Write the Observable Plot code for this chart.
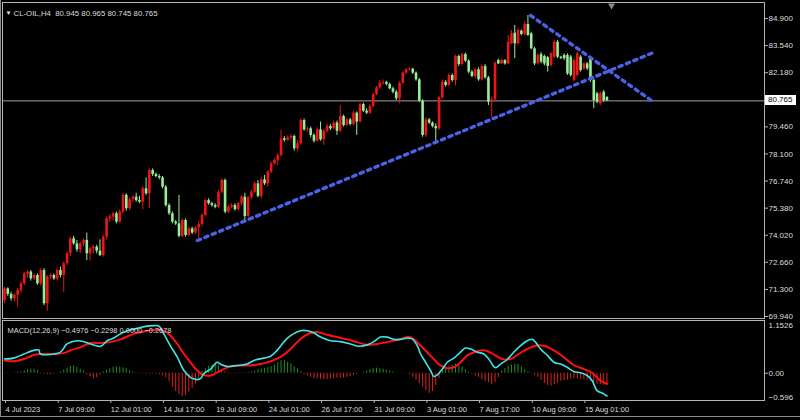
<!DOCTYPE html>
<html><head><meta charset="utf-8">
<script src="https://cdn.jsdelivr.net/npm/d3@7"></script>
<script src="https://cdn.jsdelivr.net/npm/@observablehq/plot@0.6"></script>
<style>
html,body{margin:0;padding:0;background:#000;}
#wrap{position:relative;width:800px;height:420px;background:#000;overflow:hidden;}
#wrap svg{position:absolute;left:0;}
#pricebox{position:absolute;left:765px;width:31px;height:10px;background:#fff;color:#000;font:8px "Liberation Sans",Arial,sans-serif;line-height:10px;padding-left:3px;box-sizing:border-box;}
#outer{position:absolute;left:0;top:0;width:800px;height:417px;border-left:1px solid #8a8a8a;border-bottom:1px solid #8a8a8a;box-sizing:border-box;pointer-events:none;}
</style></head>
<body><div id="wrap"></div>
<script>
// ---- data: H4 candles (bar index 0..183) ----
const open = [
70.75,71.33,71.05,70.83,71.00,71.25,71.58,72.05,72.17,71.83,
72.00,71.58,72.25,70.58,71.92,72.00,71.83,72.25,72.00,72.59,
73.09,73.84,73.59,73.29,73.59,73.76,73.09,73.34,73.42,73.22,
73.00,73.92,74.84,74.93,75.10,74.68,75.18,76.02,75.35,75.80,
75.93,75.76,75.68,76.35,76.10,77.27,77.07,76.97,76.90,76.43,
75.51,75.10,74.68,74.59,73.96,74.76,74.01,74.34,74.13,74.39,
74.56,75.01,75.76,75.60,75.51,75.43,76.18,76.77,75.18,75.43,
75.51,75.30,75.60,75.93,74.96,75.90,76.18,76.60,75.97,76.80,
76.60,77.19,77.60,77.78,78.02,78.86,78.78,78.91,78.98,78.36,
78.61,79.78,79.31,79.36,79.03,78.74,79.31,78.81,79.24,79.48,
79.36,79.65,79.24,79.98,79.53,79.81,79.58,80.15,79.70,80.58,
80.25,80.15,80.48,81.08,81.42,81.65,81.69,81.59,81.37,81.20,
80.87,81.65,82.16,82.32,82.36,82.16,81.82,80.75,79.03,79.81,
79.65,79.48,79.36,80.92,81.70,81.54,82.04,81.79,82.99,82.59,
83.09,82.76,82.21,81.99,82.32,81.82,82.49,81.92,80.70,80.82,
82.79,82.62,82.79,82.62,83.63,84.16,83.63,84.26,84.10,84.60,
84.13,83.38,82.62,83.09,82.99,82.93,82.54,82.96,83.71,82.96,
83.04,83.04,82.96,81.79,82.04,82.96,82.37,82.62,82.88,81.79,
81.12,80.62,81.20,80.945];
const high = [
71.41,71.38,71.16,71.08,71.33,71.67,72.17,72.25,72.25,72.08,
72.08,72.34,72.34,72.00,72.08,72.08,72.34,72.42,72.67,73.17,
73.92,73.96,73.76,73.67,73.84,74.13,73.42,73.51,73.51,73.79,
74.01,74.93,75.06,75.18,75.18,75.30,76.10,76.10,75.90,76.02,
76.13,75.97,76.47,76.90,77.35,77.35,77.14,77.07,76.97,76.52,
75.60,75.18,74.76,76.02,74.84,74.84,74.43,74.43,74.46,74.68,
75.10,75.83,75.85,75.68,75.60,76.27,76.85,76.85,75.51,75.60,
75.60,75.68,76.02,76.13,75.97,76.27,76.69,76.77,76.90,77.02,
77.27,77.69,77.86,78.11,79.28,78.98,79.01,79.08,79.04,78.78,
79.86,79.86,79.45,79.45,79.11,79.41,79.70,79.31,79.58,79.58,
79.75,79.75,80.53,80.05,79.91,79.88,80.25,80.21,80.65,80.65,
80.37,80.58,81.15,81.49,81.79,81.82,81.75,81.65,81.45,81.29,
81.72,82.22,82.39,82.42,82.39,82.22,81.89,80.82,79.91,79.88,
79.71,79.61,80.98,81.82,81.79,82.12,82.12,83.06,83.06,83.16,
83.16,82.83,82.29,82.39,82.42,82.56,82.59,81.99,80.92,82.72,
82.86,82.86,82.83,84.05,84.30,84.55,84.38,84.33,84.72,85.05,
84.21,83.46,83.13,83.19,83.06,82.99,83.19,83.80,83.80,83.00,
83.13,83.13,83.04,82.88,83.21,83.04,82.69,82.69,82.96,81.87,
81.20,81.20,81.29,80.965];
const low = [
70.58,70.95,70.71,70.66,70.41,71.11,71.50,71.88,71.72,71.75,
71.50,71.45,70.49,70.21,71.78,71.75,71.72,71.88,71.16,72.50,
72.95,73.51,73.17,73.09,73.46,72.75,72.72,73.09,73.09,72.95,
72.92,73.79,74.68,74.76,74.59,74.63,75.10,75.23,75.26,75.68,
75.68,75.60,75.30,76.02,75.35,76.97,76.90,76.80,76.35,75.43,
75.01,74.59,74.51,73.89,73.89,73.92,73.96,74.06,74.06,73.84,
74.43,74.93,75.53,75.43,75.35,75.35,76.10,75.10,75.10,75.35,
75.23,75.23,75.51,74.73,74.90,75.80,76.10,75.90,75.85,76.52,
76.43,77.10,77.55,77.52,77.94,78.69,78.74,78.78,78.24,78.24,
78.53,79.24,79.19,78.91,78.64,78.69,78.74,78.53,79.14,79.28,
79.31,79.03,79.18,79.45,79.48,79.51,79.51,79.03,79.65,80.18,
80.08,80.08,80.42,81.02,81.35,81.55,81.52,81.32,81.12,80.78,
80.62,81.59,82.09,82.26,82.09,81.75,80.68,78.94,78.94,79.58,
79.41,78.69,79.28,80.85,81.45,81.49,81.70,81.52,82.49,82.52,
82.69,82.12,81.92,81.87,81.75,81.75,81.85,80.53,79.91,80.75,
82.59,82.59,82.56,82.59,83.59,82.88,83.56,84.03,84.03,84.00,
83.33,82.54,82.56,82.62,82.52,82.21,82.46,82.88,82.88,82.84,
82.79,82.04,81.96,81.70,81.96,82.21,82.29,82.29,81.70,80.37,
80.62,80.53,80.70,80.745];
const close = [
71.33,71.05,70.83,71.00,71.25,71.58,72.08,72.17,71.83,72.00,
71.58,72.25,70.58,71.92,72.00,71.83,72.25,72.00,72.59,73.09,
73.84,73.59,73.29,73.59,73.76,73.09,73.34,73.42,73.22,73.00,
73.92,74.84,74.93,75.10,74.68,75.18,76.02,75.35,75.80,75.93,
75.76,75.68,76.35,76.10,77.27,77.07,76.97,76.90,76.43,75.51,
75.10,74.68,74.59,73.96,74.76,74.01,74.34,74.13,74.39,74.56,
75.01,75.76,75.60,75.51,75.43,76.18,76.77,75.18,75.43,75.51,
75.30,75.60,75.93,74.96,75.90,76.18,76.60,75.97,76.80,76.60,
77.19,77.60,77.78,78.02,78.86,78.78,78.91,78.98,78.36,78.61,
79.78,79.31,79.36,79.03,78.74,79.31,78.81,79.24,79.48,79.36,
79.65,79.24,79.98,79.53,79.81,79.58,80.15,79.70,80.58,80.25,
80.15,80.48,81.08,81.42,81.65,81.69,81.59,81.37,81.20,80.87,
81.65,82.16,82.32,82.36,82.16,81.82,80.75,79.03,79.81,79.65,
79.48,79.36,80.92,81.70,81.54,82.04,81.79,82.99,82.59,83.09,
82.76,82.21,81.99,82.32,81.82,82.49,81.92,80.70,80.82,82.66,
82.62,82.79,82.62,83.71,84.13,83.63,84.30,84.10,84.60,84.05,
83.38,82.62,83.04,82.71,82.62,82.49,83.13,83.71,82.96,82.90,
82.88,82.12,82.04,82.79,83.13,82.29,82.62,82.37,81.79,80.78,
80.70,81.12,80.78,80.765];

// trend lines (bar index, price)
const trendUpBar = [58.6, 197.1];
const trendUpPrice = [73.755, 83.19];
const trendDownBar = [159.8, 197.4];
const trendDownPrice = [85.05, 80.68];

// price axis
const priceTicks = [84.9, 83.54, 82.18, 79.46, 78.1, 76.74, 75.38, 74.02, 72.66, 71.3, 69.94];
const priceDomain = [69.84, 85.703];

// MACD(12,26,9)
const macdBar = [0,2.8,5.9,8.9,10.4,10.9,14.0,17.0,19.0,22.1,24.1,26.1,29.2,31.2,33.2,35.2,37.3,40.3,43.3,45.4,46.9,48.4,50.4,52.5,54.5,56.5,58.5,59.5,60.5,62.6,64.6,65.6,67.6,70.7,73.7,75.7,78.8,80.8,82.8,84.8,86.9,89.9,91.9,94.0,96.0,99.0,102.1,105.1,107.6,110.2,112.2,114.2,116.3,118.3,120.3,122.3,123.8,125.4,126.4,127.9,129.4,130.4,131.4,133.0,134.5,136.5,138.5,140.0,141.6,143.6,145.6,147.1,149.1,150.7,152.7,154.7,156.7,158.8,160.3,161.3,162.8,164.9,166.9,168.9,170.9,172.9,175.0,177.0,178.5,180.0,182.0,183];
const macdVal = [0.31,0.33,0.42,0.50,0.51,0.42,0.41,0.46,0.64,0.71,0.69,0.64,0.59,0.71,0.77,0.86,0.93,0.98,1.03,1.04,1.03,0.86,0.60,0.35,0.06,-0.09,-0.14,-0.12,-0.01,0.09,0.24,0.20,0.15,0.17,0.20,0.28,0.33,0.37,0.50,0.68,0.82,0.93,0.93,0.88,0.79,0.71,0.69,0.64,0.59,0.62,0.69,0.79,0.79,0.74,0.74,0.77,0.75,0.60,0.42,0.24,0.06,-0.07,-0.04,0.09,0.24,0.33,0.46,0.55,0.53,0.46,0.42,0.31,0.12,0.20,0.30,0.46,0.60,0.71,0.74,0.68,0.53,0.39,0.24,0.20,0.13,0.04,0.01,-0.05,-0.16,-0.38,-0.45,-0.4976];
const signalBar = [0,2.8,5.9,8.9,11.9,15.0,18.0,20.0,23.1,26.1,29.2,32.2,35.2,39.3,42.3,45.4,48.4,50.4,52.5,54.5,56.5,58.5,60.5,62.6,64.6,66.6,68.7,71.7,74.7,77.8,80.8,83.8,86.9,89.9,92.9,95.0,98.0,101.1,104.1,107.1,110.2,113.2,116.3,119.3,120.3,122.8,124.3,126.4,128.4,130.4,132.4,134.5,136.5,138.5,140.6,142.6,145.1,147.1,149.1,151.2,153.7,156.2,158.8,161.3,163.8,166.9,169.9,172.9,176.0,178.5,181.0,183];
const signalVal = [0.28,0.26,0.31,0.40,0.42,0.42,0.44,0.50,0.57,0.66,0.66,0.68,0.74,0.86,0.91,0.95,0.93,0.82,0.64,0.42,0.24,0.06,-0.04,-0.05,0.02,0.09,0.15,0.17,0.17,0.20,0.26,0.35,0.53,0.75,0.88,0.90,0.84,0.79,0.74,0.68,0.62,0.64,0.68,0.73,0.75,0.79,0.75,0.60,0.46,0.31,0.17,0.11,0.13,0.24,0.39,0.46,0.50,0.47,0.39,0.31,0.31,0.42,0.53,0.60,0.60,0.50,0.35,0.18,0.09,0.01,-0.16,-0.2298];
const histVal = [
0.01,-0.01,0.00,0.01,0.02,0.03,0.05,0.08,0.09,0.09,
0.06,-0.01,-0.02,-0.03,-0.03,-0.02,-0.01,0.03,0.07,0.11,
0.15,0.16,0.13,0.09,0.05,-0.03,-0.08,-0.12,-0.10,-0.04,
0.03,0.07,0.10,0.13,0.14,0.13,0.12,0.10,0.06,0.03,
0.01,-0.01,-0.01,-0.02,-0.02,-0.01,-0.02,-0.03,-0.06,-0.10,
-0.19,-0.30,-0.40,-0.47,-0.51,-0.48,-0.41,-0.33,-0.24,-0.13,
0.04,0.10,0.15,0.18,0.20,0.16,0.08,0.03,-0.02,-0.01,
-0.02,0.01,-0.01,0.01,0.02,0.03,0.05,0.07,0.09,0.10,
0.12,0.14,0.18,0.23,0.27,0.28,0.24,0.20,0.14,0.09,
0.03,-0.03,-0.06,-0.09,-0.11,-0.12,-0.13,-0.14,-0.14,-0.13,
-0.12,-0.11,-0.11,-0.10,-0.09,-0.07,-0.05,-0.03,0.00,0.02,
0.05,0.08,0.10,0.11,0.10,0.09,0.07,0.05,0.03,0.01,
0.00,-0.01,-0.01,-0.03,-0.09,-0.15,-0.23,-0.30,-0.38,-0.44,
-0.40,-0.27,-0.12,0.05,0.10,0.13,0.17,0.20,0.18,0.13,
0.08,0.03,-0.02,-0.06,-0.09,-0.14,-0.18,-0.21,-0.25,-0.20,
-0.10,0.05,0.10,0.15,0.18,0.20,0.19,0.14,0.08,0.03,
0.01,-0.04,-0.09,-0.15,-0.22,-0.27,-0.28,-0.25,-0.22,-0.18,
-0.16,-0.15,-0.12,-0.11,-0.12,-0.13,-0.15,-0.15,-0.18,-0.21,
-0.24,-0.25,-0.26,-0.2678];
const macdMax = 1.1526, macdMin = -0.596;
const macdThirdBuffer = 0.0;

// time axis
const dateTickBars = [0,16,32,48,64,80,96,112,128,144,160,176];
const dateLabels = ["4 Jul 2023","7 Jul 09:00","12 Jul 01:00","14 Jul 17:00","19 Jul 09:00","24 Jul 01:00","26 Jul 17:00","31 Jul 09:00","3 Aug 01:00","7 Aug 17:00","10 Aug 09:00","15 Aug 01:00"];
const symbol = "CL-OIL,H4";
const chartShiftBar = 184.4;

// ---- styles ----
const font = '"Liberation Sans", Arial, sans-serif';
const textColor = "#dedede";
const frameColor = "#b4b4b4";
const bullColor = "#f01414";
const bearColor = "#98ee98";
const trendColor = "#4a62e8";
const xDomain = [-0.61, 230.86];

const bars = close.map((c, i) => ({i, o: open[i], h: high[i], l: low[i], c}));
const candleColor = d => d.c >= d.o ? bullColor : bearColor;
const trendUp = trendUpBar.map((b, i) => ({b, p: trendUpPrice[i]}));
const trendDown = trendDownBar.map((b, i) => ({b, p: trendDownPrice[i]}));
const last = bars[bars.length - 1];
const f3 = d3.format(".3f"), f4 = d3.format(".4f");
const header = `${symbol}  ${f3(last.o)} ${f3(last.h)} ${f3(last.l)} ${f3(last.c)}`;

const main = Plot.plot({
  width: 800, height: 320,
  marginLeft: 2, marginRight: 36, marginTop: 2, marginBottom: 2,
  style: {background: "#000", color: textColor, fontFamily: font, fontSize: "8px"},
  x: {domain: xDomain, axis: null},
  y: {domain: priceDomain, axis: null},
  color: {type: "identity"},
  marks: [
    Plot.ruleY([last.c], {stroke: "#a0a0a0", strokeWidth: 1}),
    Plot.ruleX(bars, {x: "i", y1: "l", y2: "h", stroke: candleColor, strokeWidth: 1}),
    Plot.ruleX(bars, {x: "i", y1: "o", y2: "c", stroke: candleColor, strokeWidth: 2.6}),
    Plot.line(trendUp, {x: "b", y: "p", stroke: trendColor, strokeWidth: 3.4, strokeDasharray: "3.4,4.6"}),
    Plot.line(trendDown, {x: "b", y: "p", stroke: trendColor, strokeWidth: 3.4, strokeDasharray: "3.4,4.6"}),
    Plot.frame({stroke: frameColor}),
    Plot.axisY({anchor: "right", label: null, ticks: priceTicks, tickFormat: f3, tickSize: 3, tickPadding: 1, stroke: frameColor, fill: textColor, fontSize: 8}),
    Plot.text(["\u25BC"], {frameAnchor: "top-left", dx: 3, dy: 8, fill: "#e8e8e8", fontSize: 6, textAnchor: "start"}),
    Plot.text([header], {frameAnchor: "top-left", dx: 11, dy: 8, fill: textColor, fontSize: 7.6, textAnchor: "start"}),
    Plot.dot([chartShiftBar], {x: d => d, frameAnchor: "top", dy: 3, symbol: "triangle", rotate: 180, r: 2.6, fill: "#8a8a8a", stroke: "none"})
  ]
});
main.style.top = "0px";

const hist = histVal.map((v, i) => ({i, v}));
const macd = macdBar.map((b, i) => ({b, v: macdVal[i]}));
const signal = signalBar.map((b, i) => ({b, v: signalVal[i]}));
const macdTitle = `MACD(12,26,9) ${f4(macdVal[macdVal.length-1])} ${f4(signalVal[signalVal.length-1])} ${f4(macdThirdBuffer)} ${f4(histVal[histVal.length-1])}`;

const ind = Plot.plot({
  width: 800, height: 102,
  marginLeft: 2, marginRight: 36, marginTop: 2, marginBottom: 20,
  style: {background: "transparent", color: textColor, fontFamily: font, fontSize: "8px"},
  x: {domain: xDomain, axis: null},
  y: {domain: [macdMin, macdMax], axis: null},
  color: {type: "identity"},
  marks: [
    Plot.ruleX(hist, {x: "i", y1: 0, y2: "v", stroke: d => d.v >= 0 ? "#1f8f1f" : "#e02020", strokeWidth: 1}),
    Plot.line(signal, {x: "b", y: "v", stroke: "#ff1010", strokeWidth: 2, curve: "catmull-rom"}),
    Plot.line(macd, {x: "b", y: "v", stroke: "#40e6e6", strokeWidth: 1.6, curve: "catmull-rom"}),
    Plot.frame({stroke: frameColor}),
    Plot.axisY({anchor: "right", label: null, ticks: [0], tickFormat: d3.format(".2f"), tickSize: 3, tickPadding: 1, stroke: frameColor, fill: textColor, fontSize: 8}),
    Plot.text([macdMax], {y: d => d, text: d => f4(d), frameAnchor: "right", dx: 4, dy: 5, textAnchor: "start", fill: textColor, fontSize: 8}),
    Plot.text([macdMin], {y: d => d, text: d => f3(d), frameAnchor: "right", dx: 4, dy: -3, textAnchor: "start", fill: textColor, fontSize: 8}),
    Plot.text([macdTitle], {frameAnchor: "top-left", dx: 5, dy: 7, textAnchor: "start", fill: textColor, fontSize: 7.6}),
    Plot.axisX({anchor: "bottom", label: null, ticks: dateTickBars, tickFormat: (d, i) => dateLabels[i], tickSize: 3, tickPadding: 3, textAnchor: "start", dx: 1, stroke: frameColor, fill: textColor, fontSize: 7.5})
  ]
});
ind.style.top = "318px";

const wrap = document.getElementById("wrap");
wrap.appendChild(main);
wrap.appendChild(ind);

// match the reference widths of the two header strings
function fitWidth(svg, str, w) {
  svg.querySelectorAll("text").forEach(t => {
    if (t.textContent.replace(/\s+/g, " ") === str.replace(/\s+/g, " ")) {
      t.setAttribute("textLength", w);
      t.setAttribute("lengthAdjust", "spacingAndGlyphs");
    }
  });
}
fitWidth(main, header, 144);
fitWidth(ind, macdTitle, 164);

const box = document.createElement("div");
box.id = "pricebox";
box.textContent = f3(last.c);
box.style.top = (main.scale("y").apply(last.c) - 5) + "px";
wrap.appendChild(box);

const outer = document.createElement("div");
outer.id = "outer";
wrap.appendChild(outer);
</script></body></html>
